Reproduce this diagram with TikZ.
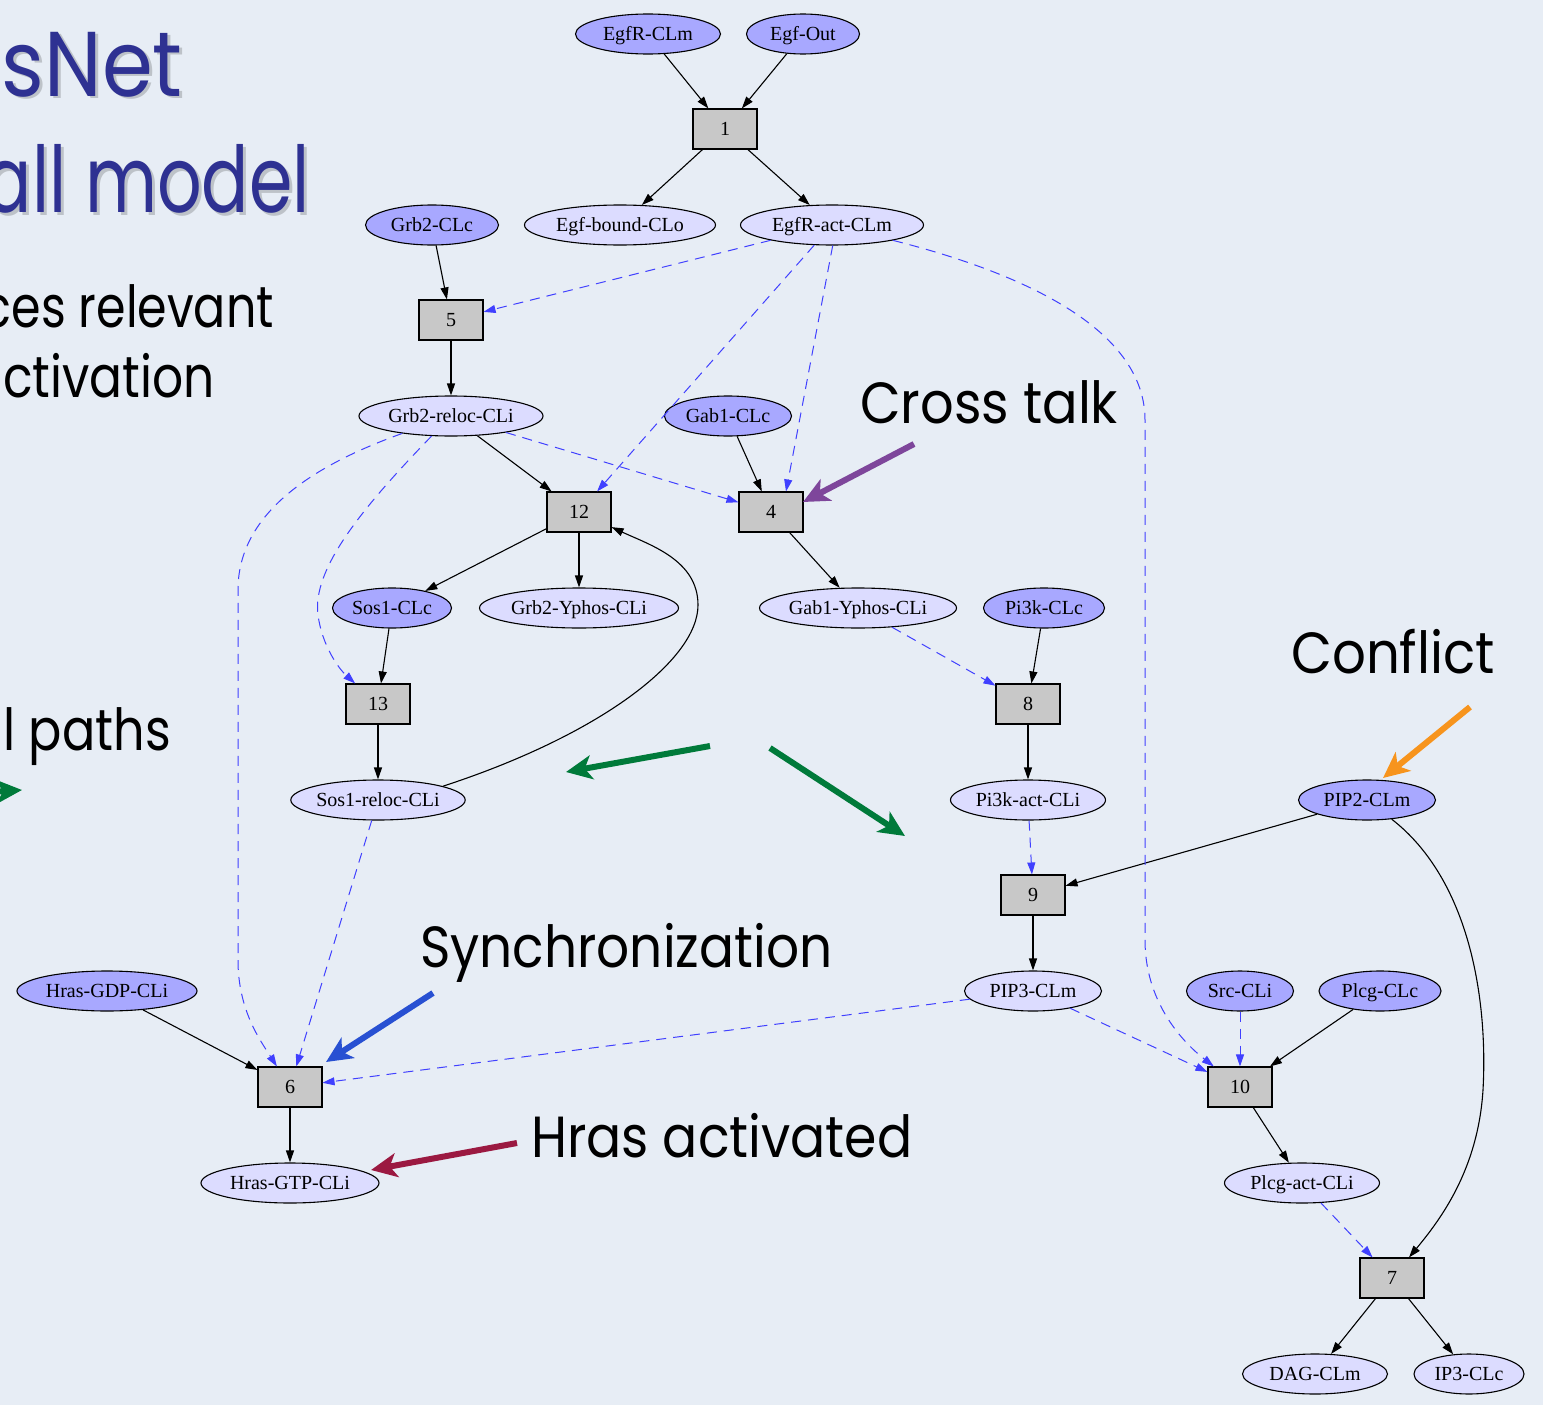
\documentclass[tikz,border=0pt]{standalone}
\usepackage{graphicx}
\usepackage{fontspec}
\setmainfont{Liberation Serif}
\newfontfamily\handfont{Poppins}
\usetikzlibrary{arrows.meta,shapes.geometric,calc}

\definecolor{paper}{RGB}{231,237,245}
\definecolor{placefill}{RGB}{168,168,255}
\definecolor{productfill}{RGB}{220,220,255}
\definecolor{transgray}{RGB}{200,200,200}
\definecolor{readblue}{RGB}{64,64,255}
\definecolor{titleblue}{RGB}{46,49,146}
\definecolor{crosspurple}{RGB}{126,70,155}
\definecolor{pathgreen}{RGB}{0,122,58}
\definecolor{conflictorange}{RGB}{247,148,29}
\definecolor{syncblue}{RGB}{40,80,210}
\definecolor{activered}{RGB}{155,25,65}

% handwriting-style text, narrowed horizontally
\newcommand\narrow[2]{\scalebox{#1}[1]{#2}}

\begin{document}
\begin{tikzpicture}[x=1pt,y=-1pt,
  species/.style={ellipse, draw, line width=1.1pt, inner sep=0pt,
    minimum height=40pt, text height=15pt, text depth=2pt,
    font=\fontsize{20}{24}\selectfont},
  inp/.style={species, fill=placefill},
  outp/.style={species, fill=productfill},
  trans/.style={rectangle, draw, line width=1.1pt, fill=transgray,
    minimum width=64pt, minimum height=40pt, inner sep=0pt,
    text height=15pt, text depth=2pt,
    font=\fontsize{20}{24}\selectfont},
  arc/.style={-{Triangle[length=12pt,width=8pt]}, line width=1.1pt},
  readarc/.style={arc, draw=readblue, line width=1pt,
    dash pattern=on 10pt off 7pt},
  note/.style={line width=6pt, -{Stealth[length=26pt,width=24pt,inset=7pt]}},
  hand/.style={font=\handfont\fontsize{58}{60}\selectfont, inner sep=0pt},
  titletext/.style={font=\handfont\fontsize{92}{96}\selectfont, inner sep=0pt},
]
\useasboundingbox (0,0) rectangle (1543,1405);
\clip (0,0) rectangle (1543,1405);
\fill[paper] (0,0) rectangle (1543,1405);

% ---- slide text on the left ----
\foreach \dx/\col/\op in {3/black/0.18, 0/titleblue/1} {
  \node[titletext, text=\col, text opacity=\op, anchor=base east] at (183+\dx,96+\dx) {\narrow{0.89}{sNet}};
  \node[titletext, text=\col, text opacity=\op, anchor=base east] at (310+\dx,212+\dx) {\narrow{0.76}{all model}};
}
\node[hand, anchor=base east] (t1) at (274,327) {\narrow{0.82}{ces relevant}};
\node[hand, anchor=base east] (t2) at (215,397) {\narrow{0.84}{activation}};
\node[hand, anchor=base east] (t3) at (171,750) {\narrow{0.85}{l paths}};

% ---- places and transitions ----
\node[inp]  (egfr)    at (648,34)   [minimum width=145pt] {EgfR-CLm};
\node[inp]  (egfout)  at (803,34)   [minimum width=113pt] {Egf-Out};
\node[trans] (b1)     at (725,129)  {1};
\node[outp] (egfb)    at (620,225)  [minimum width=191pt] {Egf-bound-CLo};
\node[outp] (egfract) at (832,225)  [minimum width=183pt] {EgfR-act-CLm};
\node[inp]  (grb2)    at (432,225)  [minimum width=133pt] {Grb2-CLc};
\node[trans] (b5)     at (451,320)  {5};
\node[outp] (grb2r)   at (451,416)  [minimum width=184pt] {Grb2-reloc-CLi};
\node[inp]  (gab1)    at (728,416)  [minimum width=127pt] {Gab1-CLc};
\node[trans] (b12)    at (579,512)  {12};
\node[trans] (b4)     at (771,512)  {4};
\node[inp]  (sos1)    at (392,608)  [minimum width=119pt] {Sos1-CLc};
\node[outp] (grb2y)   at (579,608)  [minimum width=199pt] {Grb2-Yphos-CLi};
\node[outp] (gab1y)   at (858,608)  [minimum width=197pt] {Gab1-Yphos-CLi};
\node[inp]  (pi3k)    at (1044,608) [minimum width=121pt] {Pi3k-CLc};
\node[trans] (b13)    at (378,704)  {13};
\node[trans] (b8)     at (1028,704) {8};
\node[outp] (sos1r)   at (378,800)  [minimum width=168pt] {Sos1-reloc-CLi};
\node[outp] (pi3ka)   at (1028,800) [minimum width=155pt] {Pi3k-act-CLi};
\node[inp]  (pip2)    at (1367,800) [minimum width=137pt] {PIP2-CLm};
\node[trans] (b9)     at (1033,895) {9};
\node[inp]  (hgdp)    at (107,991)  [minimum width=180pt] {Hras-GDP-CLi};
\node[outp] (pip3)    at (1033,991) [minimum width=137pt] {PIP3-CLm};
\node[inp]  (src)     at (1240,991) [minimum width=107pt] {Src-CLi};
\node[inp]  (plcg)    at (1380,991) [minimum width=122pt] {Plcg-CLc};
\node[trans] (b6)     at (290,1087) {6};
\node[trans] (b10)    at (1240,1087) {10};
\node[outp] (hgtp)    at (290,1183) [minimum width=178pt] {Hras-GTP-CLi};
\node[outp] (plcga)   at (1302,1183) [minimum width=155pt] {Plcg-act-CLi};
\node[trans] (b7)     at (1392,1278) {7};
\node[outp] (dag)     at (1315,1374) [minimum width=145pt] {DAG-CLm};
\node[outp] (ip3)     at (1469,1374) [minimum width=110pt] {IP3-CLc};

% ---- consuming / producing arcs ----
\draw[arc] (egfr) -- (b1);
\draw[arc] (egfout) -- (b1);
\draw[arc] (b1) -- (egfb);
\draw[arc] (b1) -- (egfract);
\draw[arc] (grb2) -- (b5);
\draw[arc] (b5) -- (grb2r);
\draw[arc] (grb2r) -- (b12);
\draw[arc] (gab1) -- (b4);
\draw[arc] (b12) -- (sos1);
\draw[arc] (b12) -- (grb2y);
\draw[arc] (b4) -- (gab1y);
\draw[arc] (sos1) -- (b13);
\draw[arc] (b13) -- (sos1r);
\draw[arc] (pi3k) -- (b8);
\draw[arc] (b8) -- (pi3ka);
\draw[arc] (pip2) -- (b9);
\draw[arc] (b9) -- (pip3);
\draw[arc] (hgdp) -- (b6);
\draw[arc] (b6) -- (hgtp);
\draw[arc] (plcg) -- (b10);
\draw[arc] (b10) -- (plcga);
\draw[arc] (b7) -- (dag);
\draw[arc] (b7) -- (ip3);
\draw[arc] (sos1r.12) .. controls (600,735) and (698,660) .. (698,605)
                      .. controls (698,560) and (650,545) .. (b12);
\draw[arc] (pip2) .. controls (1470,880) and (1488,1000) .. (1483,1090)
                  .. controls (1478,1170) and (1440,1220) .. (b7);

% ---- read arcs ----
\draw[readarc] (egfract) -- (b5);
\draw[readarc] (egfract) -- (b12);
\draw[readarc] (egfract.-88) -- ([xshift=15pt]b4.north);
\draw[readarc] (egfract) .. controls (1050,280) and (1145,340) .. (1145,420)
               -- (1145,940) .. controls (1145,1000) and (1180,1040) .. (b10);
\draw[readarc] (grb2r) -- (b4);
\draw[readarc] (grb2r) .. controls (360,510) and (312,570) .. (318,615)
               .. controls (322,645) and (338,668) .. (b13);
\draw[readarc] (grb2r) .. controls (300,470) and (238,520) .. (238,590)
               -- (238,960) .. controls (238,1010) and (260,1040) .. (b6);
\draw[readarc] (gab1y) -- (b8);
\draw[readarc] (pi3ka) -- (b9);
\draw[readarc] (sos1r) -- (b6);
\draw[readarc] (pip3) -- (b6);
\draw[readarc] (pip3) -- (b10);
\draw[readarc] (src) -- (b10);
\draw[readarc] (plcga) -- (b7);

% ---- annotations ----
\node[hand, anchor=base west] (crosstalk) at (860,423) {\narrow{0.908}{Cross talk}};
\node[hand, anchor=base west] (conflict) at (1291,673) {\narrow{0.914}{Conflict}};
\node[hand, anchor=base west] (sync) at (420,967) {\narrow{0.893}{Synchronization}};
\node[hand, anchor=base west] (hact) at (531,1157) {\narrow{0.898}{Hras activated}};

\coordinate (ctTail) at (914,444);   \coordinate (ctHead) at (803,502);
\coordinate (cfTail) at (1470,707);  \coordinate (cfHead) at (1383,778);
\coordinate (syTail) at (433,993);   \coordinate (syHead) at (326,1062);
\coordinate (haTail) at (517,1143);  \coordinate (haHead) at (371,1170);
\coordinate (g1Tail) at (710,746);   \coordinate (g1Head) at (566,772);
\coordinate (g2Tail) at (770,748);   \coordinate (g2Head) at (905,836);
\coordinate (g3Tail) at (-40,794);   \coordinate (g3Head) at (22,790);

\draw[note, crosspurple] (ctTail) -- (ctHead);
\draw[note, conflictorange] (cfTail) -- (cfHead);
\draw[note, syncblue] (syTail) -- (syHead);
\draw[note, activered] (haTail) -- (haHead);
\draw[note, pathgreen] (g1Tail) -- (g1Head);
\draw[note, pathgreen] (g2Tail) -- (g2Head);
\draw[note, pathgreen] (g3Tail) -- (g3Head);
\end{tikzpicture}
\end{document}
